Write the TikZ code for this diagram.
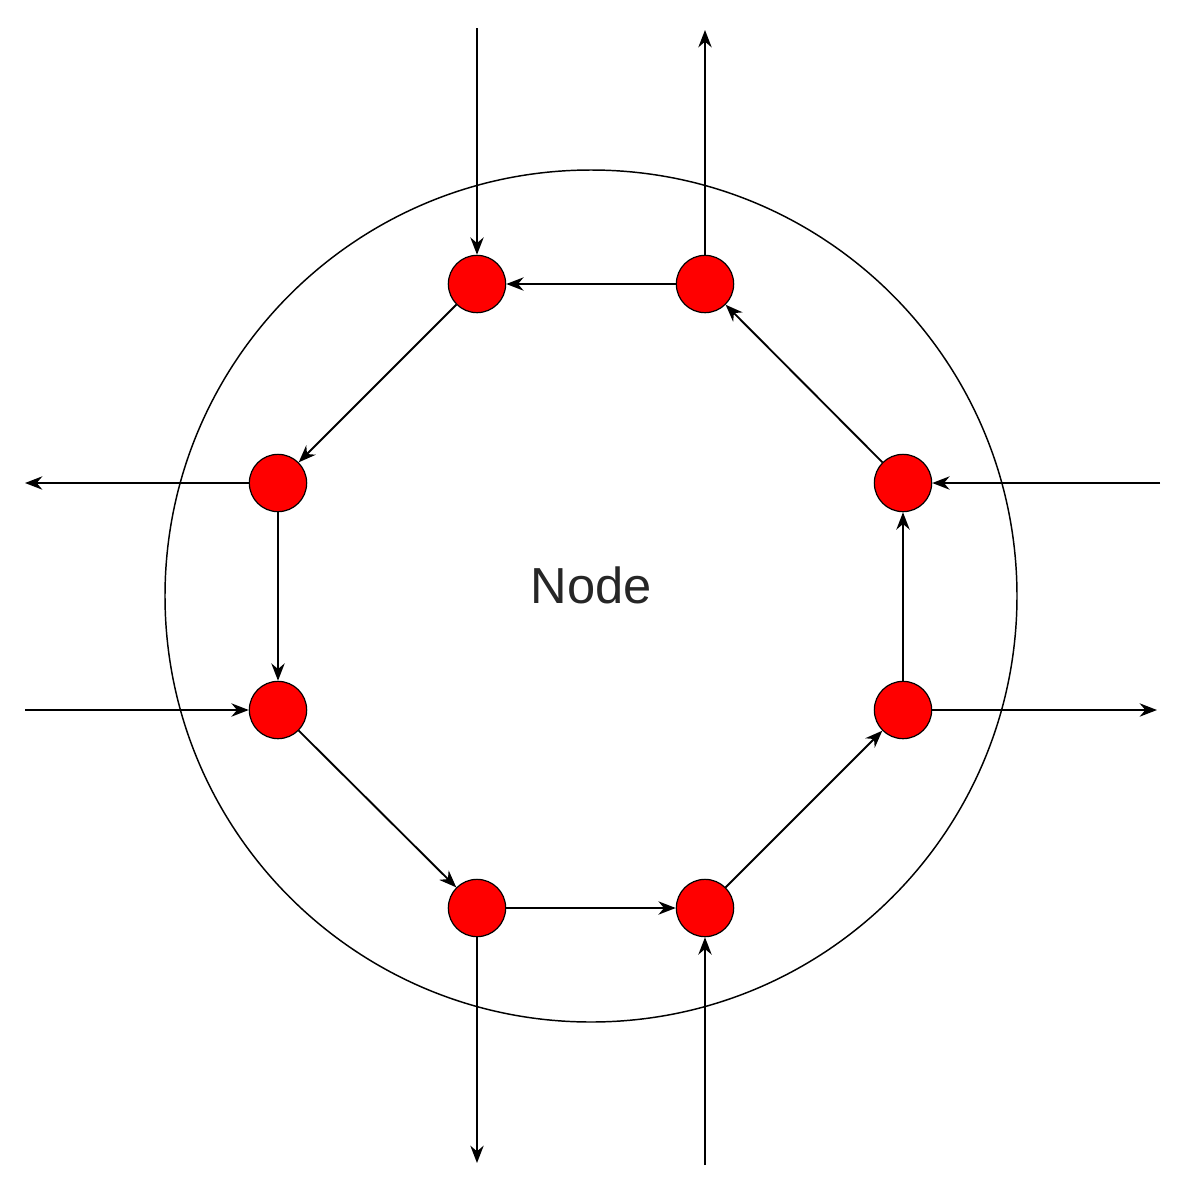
\documentclass[tikz,border=0pt]{standalone}
\usepackage{fontspec}
\setmainfont{Liberation Sans}
\usetikzlibrary{arrows.meta}
\begin{document}
\begin{tikzpicture}[x=0.75pt,y=-0.75pt,
  rn/.style={circle,draw=black,line width=0.9pt,fill=red,minimum size=43pt,inner sep=0pt},
  ar/.style={line width=1.4pt,-{Stealth[length=13pt,width=10pt]}}]
\useasboundingbox (0,0) rectangle (1179,1190);
\node[circle,draw,line width=1.1pt,minimum size=639pt,inner sep=0pt] (big) at (591,596) {};
\node[text=black!85] at (591,585) {\fontsize{38}{46}\selectfont Node};
\node[rn] (a) at (477,284) {};
\node[rn] (b) at (705,284) {};
\node[rn] (c) at (903,483) {};
\node[rn] (d) at (903,710) {};
\node[rn] (e) at (705,908) {};
\node[rn] (f) at (477,908) {};
\node[rn] (g) at (278,710) {};
\node[rn] (h) at (278,483) {};
\coordinate (ta) at (477,28);
\coordinate (tb) at (705,30);
\coordinate (tc) at (1160,483);
\coordinate (td) at (1157,710);
\coordinate (te) at (705,1165);
\coordinate (tf) at (477,1163);
\coordinate (tg) at (25,710);
\coordinate (th) at (25,483);
\draw[ar] (ta) -- (a);
\draw[ar] (b) -- (tb);
\draw[ar] (b) -- (a);
\draw[ar] (c) -- (b);
\draw[ar] (d) -- (c);
\draw[ar] (e) -- (d);
\draw[ar] (f) -- (e);
\draw[ar] (g) -- (f);
\draw[ar] (h) -- (g);
\draw[ar] (a) -- (h);
\draw[ar] (h) -- (th);
\draw[ar] (tg) -- (g);
\draw[ar] (tc) -- (c);
\draw[ar] (d) -- (td);
\draw[ar] (f) -- (tf);
\draw[ar] (te) -- (e);
\end{tikzpicture}
\end{document}
